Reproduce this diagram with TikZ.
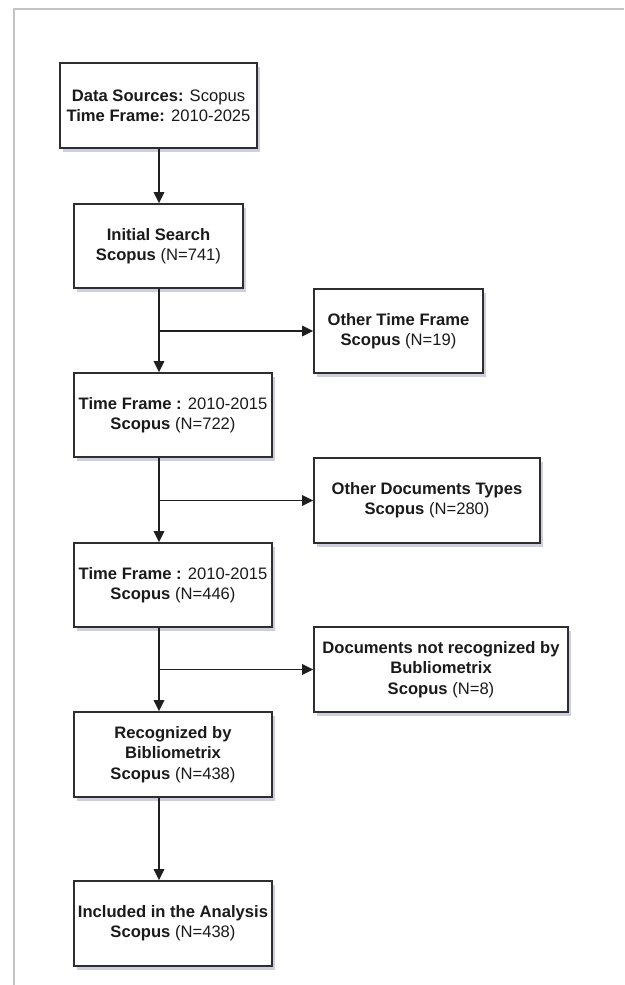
\documentclass[tikz,border=0pt]{standalone}
\usepackage{fontspec}
\setmainfont{Liberation Sans}
\usetikzlibrary{arrows.meta,shadows}
\definecolor{boxline}{HTML}{2E2E2E}
\definecolor{txt}{HTML}{1A1A1A}
\definecolor{shad}{HTML}{CDCEDE}
\definecolor{frame}{HTML}{C4C4C4}
\tikzset{
  stepbox/.style={draw=boxline, line width=1.7pt, fill=white, align=center,
    text=txt, font=\fontsize{16.6}{20.3}\selectfont, inner sep=0pt,
    drop shadow={shadow xshift=2.5pt, shadow yshift=-3.5pt, fill=shad, opacity=1}},
  flow/.style={draw=black!88, line width=1.6pt, -{Triangle[length=11pt,width=10.5pt]}}
}
\begin{document}
\begin{tikzpicture}[x=1pt,y=-1pt]
\useasboundingbox (0,0) rectangle (624,985);
\fill[white] (0,0) rectangle (624,985);
\draw[frame, line width=1.6pt] (14,985) -- (14,9) -- (624,9);

\node[stepbox, minimum width=197pt, minimum height=85pt] (b1) at (158.5,105.5)
  {\textbf{Data Sources:} Scopus\\\textbf{Time Frame:} 2010-2025};
\node[stepbox, minimum width=169pt, minimum height=84pt] (b2) at (158.5,246)
  {\textbf{Initial Search}\\\textbf{Scopus} (N=741)};
\node[stepbox, minimum width=169pt, minimum height=84pt] (o1) at (398.5,331)
  {\textbf{Other Time Frame}\\\textbf{Scopus} (N=19)};
\node[stepbox, minimum width=198pt, minimum height=84pt] (b3) at (173,415)
  {\textbf{Time Frame :} 2010-2015\\\textbf{Scopus} (N=722)};
\node[stepbox, minimum width=226pt, minimum height=85pt] (o2) at (427,500.5)
  {\textbf{Other Documents Types}\\\textbf{Scopus} (N=280)};
\node[stepbox, minimum width=198pt, minimum height=84pt] (b4) at (173,585)
  {\textbf{Time Frame :} 2010-2015\\\textbf{Scopus} (N=446)};
\node[stepbox, minimum width=254pt, minimum height=85pt] (o3) at (441,669.5)
  {\textbf{Documents not recognized by}\\\textbf{Bubliometrix}\\\textbf{Scopus} (N=8)};
\node[stepbox, minimum width=198pt, minimum height=85pt] (b5) at (173,754.5)
  {\textbf{Recognized by}\\\textbf{Bibliometrix}\\\textbf{Scopus} (N=438)};
\node[stepbox, minimum width=198pt, minimum height=85pt] (b6) at (173,923.5)
  {\textbf{Included in the Analysis}\\\textbf{Scopus} (N=438)};

\coordinate (trunk) at (159,0);
\coordinate (j1) at (trunk |- o1.west);
\coordinate (j2) at (trunk |- o2.west);
\coordinate (j3) at (trunk |- o3.west);

\draw[flow] (trunk |- b1.south) -- (trunk |- b2.north);
\draw[flow] (trunk |- b2.south) -- (trunk |- b3.north);
\draw[flow] (j1) -- (o1.west);
\draw[flow] (trunk |- b3.south) -- (trunk |- b4.north);
\draw[flow] (j2) -- (o2.west);
\draw[flow] (trunk |- b4.south) -- (trunk |- b5.north);
\draw[flow] (j3) -- (o3.west);
\draw[flow] (trunk |- b5.south) -- (trunk |- b6.north);
\end{tikzpicture}
\end{document}
